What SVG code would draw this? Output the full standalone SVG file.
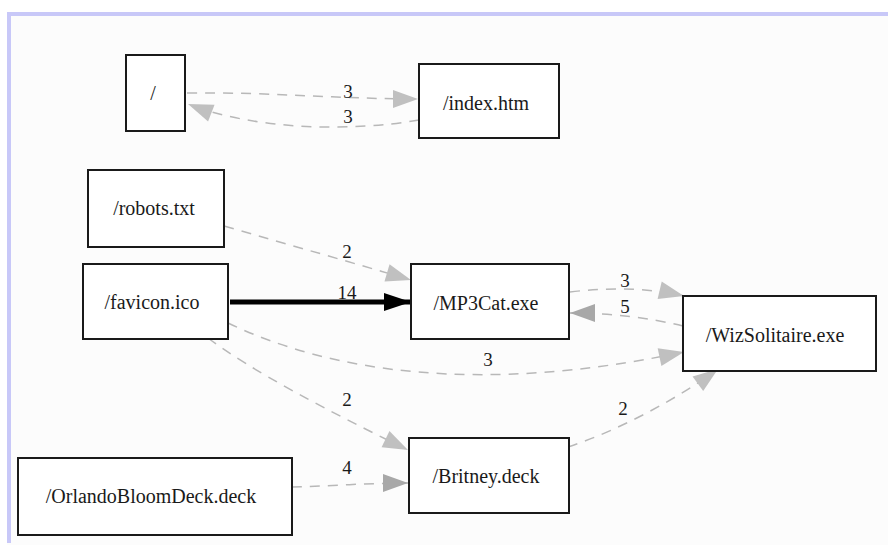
<svg xmlns="http://www.w3.org/2000/svg" width="888" height="545" viewBox="0 0 888 545">
  <style>
    text { font-family: "Liberation Serif", "Times New Roman", serif; fill: #1a1a1a; text-anchor: middle; }
    .node rect { fill: #ffffff; stroke: #1a1a1a; stroke-width: 2; }
    .node text { font-size: 20px; }
    .edge path { fill: none; stroke: #b8b8b8; stroke-width: 1.5; stroke-dasharray: 10 8; }
    .edge path.heavy { stroke: #000000; stroke-width: 5; stroke-dasharray: none; }
    .lbl { font-size: 19px; }
  </style>
  <defs>
    <marker id="arrow" markerUnits="userSpaceOnUse" markerWidth="26" markerHeight="18" refX="25" refY="9" orient="auto" overflow="visible">
      <path d="M0,0 L25,9 L0,18 Z" fill="#c0c0c0"/>
    </marker>
    <marker id="arrow-dark" markerUnits="userSpaceOnUse" markerWidth="26" markerHeight="18" refX="25" refY="9" orient="auto" overflow="visible">
      <path d="M0,0 L25,9 L0,18 Z" fill="#a8a8a8"/>
    </marker>
    <marker id="arrow-black" markerUnits="userSpaceOnUse" markerWidth="28" markerHeight="18" refX="27" refY="9" orient="auto" overflow="visible">
      <path d="M0,0 L27,9 L0,18 Z" fill="#000000"/>
    </marker>
  </defs>

  <!-- page background and frame -->
  <rect x="0" y="0" width="888" height="545" fill="#ffffff"/>
  <rect x="7" y="12" width="881" height="533" fill="#fcfcfc"/>
  <rect x="7" y="12" width="881" height="4" fill="#c8c8f8"/>
  <rect x="7" y="12" width="4" height="531" fill="#c8c8f8"/>

  <!-- connectors -->
  <g id="edges">
    <g class="edge">
      <path d="M187,93 C270,92 340,99 418,99" marker-end="url(#arrow)"/>
      <text class="lbl" x="348" y="98">3</text>
    </g>
    <g class="edge">
      <path d="M419,120 C350,132 255,130 188,104" marker-end="url(#arrow)"/>
      <text class="lbl" x="348" y="123">3</text>
    </g>
    <g class="edge">
      <path d="M224,226 C290,245 350,262 411,280" marker-end="url(#arrow)"/>
      <text class="lbl" x="347" y="258">2</text>
    </g>
    <g class="edge">
      <path class="heavy" d="M230,302 L411,302" marker-end="url(#arrow-black)"/>
      <text class="lbl" x="347" y="299">14</text>
    </g>
    <g class="edge">
      <path d="M570,292 C610,287 650,288 684,296" marker-end="url(#arrow)"/>
      <text class="lbl" x="625" y="287">3</text>
    </g>
    <g class="edge">
      <path d="M683,326 C650,318 610,313 570,313" marker-end="url(#arrow-dark)"/>
      <text class="lbl" x="625" y="313">5</text>
    </g>
    <g class="edge">
      <path d="M228,323 C330,372 480,395 684,352" marker-end="url(#arrow)"/>
      <text class="lbl" x="488" y="366">3</text>
    </g>
    <g class="edge">
      <path d="M208,338 C250,370 330,412 408,450" marker-end="url(#arrow)"/>
      <text class="lbl" x="347" y="406">2</text>
    </g>
    <g class="edge">
      <path d="M568,447 C620,430 680,397 718,369" marker-end="url(#arrow)"/>
      <text class="lbl" x="623" y="415">2</text>
    </g>
    <g class="edge">
      <path d="M292,487 C330,486 370,483 408,483" marker-end="url(#arrow-dark)"/>
      <text class="lbl" x="347" y="474">4</text>
    </g>
  </g>

  <!-- nodes -->
  <g id="node-root" class="node">
    <rect x="126" y="55" width="59" height="76"/>
    <text x="153" y="100">/</text>
  </g>
  <g id="node-index" class="node">
    <rect x="419" y="64" width="140" height="74"/>
    <text x="486" y="110">/index.htm</text>
  </g>
  <g id="node-robots" class="node">
    <rect x="88" y="170" width="136" height="77"/>
    <text x="154" y="215">/robots.txt</text>
  </g>
  <g id="node-favicon" class="node">
    <rect x="83" y="264" width="145" height="75"/>
    <text x="152" y="309">/favicon.ico</text>
  </g>
  <g id="node-mp3cat" class="node">
    <rect x="411" y="264" width="158" height="75"/>
    <text x="486" y="310">/MP3Cat.exe</text>
  </g>
  <g id="node-wizsolitaire" class="node">
    <rect x="683" y="296" width="193" height="75"/>
    <text x="775" y="342">/WizSolitaire.exe</text>
  </g>
  <g id="node-britney" class="node">
    <rect x="409" y="438" width="160" height="75"/>
    <text x="486" y="483">/Britney.deck</text>
  </g>
  <g id="node-orlando" class="node">
    <rect x="18" y="458" width="274" height="77"/>
    <text x="151" y="503">/OrlandoBloomDeck.deck</text>
  </g>
</svg>
